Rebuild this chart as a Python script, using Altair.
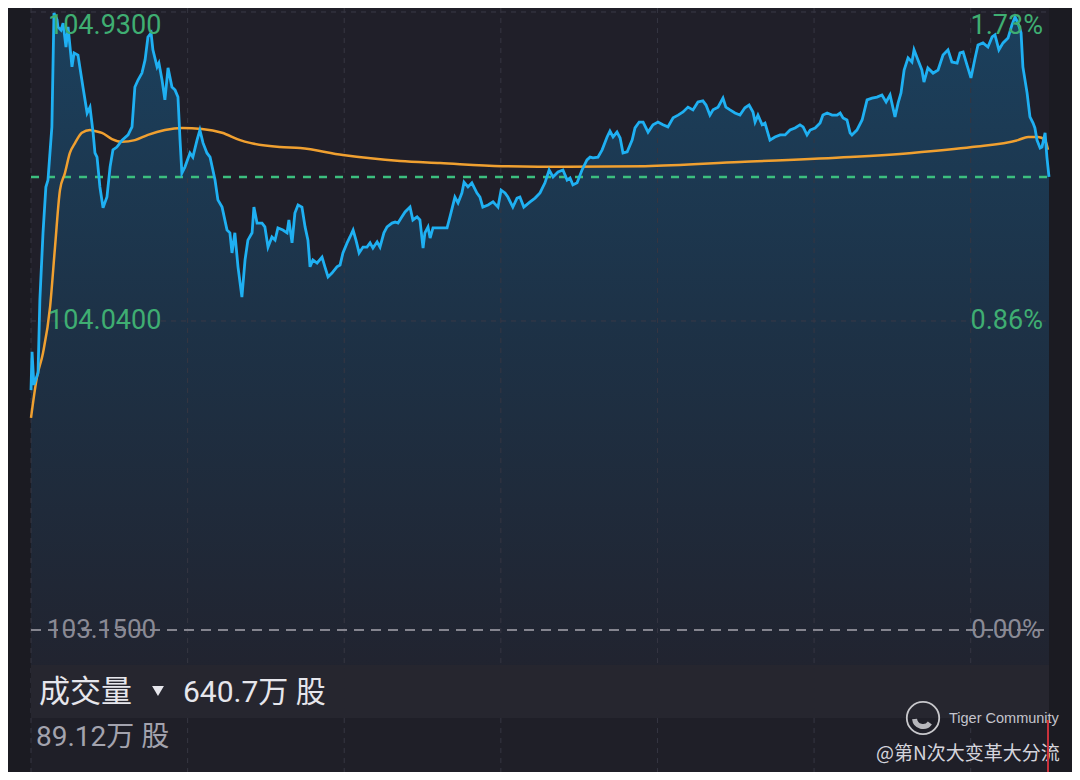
import altair as alt
import pandas as pd

# ---------------- data ----------------
minutes = [
    0, 0.4, 1.1, 2.7, 3.4, 4.6, 5.7, 6.5, 8.0, 8.8,
    10.0, 10.3, 11.5, 12.3, 13.4, 14.2, 15.7, 16.5, 18.0, 19.9,
    21.5, 22.6, 23.8, 24.5, 25.3, 26.4, 27.6, 29.1, 30.3, 31.4,
    32.9, 34.9, 37.2, 38.7, 39.8, 41.0, 42.5, 43.7, 44.8, 46.0,
    46.7, 48.3, 49.0, 50.2, 51.3, 52.5, 54.0, 55.2, 56.3, 57.1,
    57.8, 59.0, 60.9, 62.0, 63.6, 64.7, 65.9, 67.4, 68.6, 70.5,
    71.6, 73.2, 75.1, 76.2, 77.0, 78.1, 79.3, 80.8, 82.0, 83.1,
    84.7, 85.4, 86.6, 88.5, 89.6, 90.8, 92.3, 93.5, 94.6, 96.5,
    98.1, 98.8, 100.0, 101.1, 102.3, 103.8, 105.0, 106.1, 106.9, 108.0,
    109.6, 111.5, 112.6, 113.8, 115.3, 117.2, 118.4, 119.5, 121.1, 122.2,
    123.4, 124.5, 125.7, 127.2, 128.7, 129.9, 131.0, 132.6, 133.7, 135.2,
    136.4, 138.3, 139.5, 140.6, 142.1, 143.3, 145.2, 146.3, 147.9, 149.0,
    150.2, 150.9, 152.1, 152.9, 154.0, 155.9, 157.5, 159.4, 160.5, 162.4,
    163.6, 165.1, 165.9, 167.4, 168.9, 170.8, 172.0, 173.1, 175.1, 177.0,
    178.9, 180.1, 181.6, 182.7, 184.6, 186.2, 187.3, 188.8, 191.2, 193.1,
    195.0, 196.9, 198.5, 200.0, 201.9, 203.8, 205.4, 206.5, 207.6, 209.2,
    211.1, 213.0, 214.2, 215.3, 217.2, 218.8, 220.7, 221.8, 223.0, 224.5,
    225.7, 226.8, 228.4, 230.3, 231.4, 233.0, 234.5, 236.4, 238.3, 240.2,
    242.1, 244.0, 246.0, 247.9, 249.8, 251.7, 253.6, 255.5, 257.4, 258.6,
    260.1, 261.3, 263.2, 265.1, 266.2, 267.8, 269.7, 271.6, 273.5, 275.1,
    276.6, 277.4, 278.5, 280.1, 281.2, 283.1, 285.0, 287.0, 288.9, 290.8,
    292.7, 294.6, 295.8, 297.3, 298.5, 300.4, 302.3, 303.4, 305.0, 306.9,
    308.8, 310.0, 311.1, 312.6, 313.8, 314.5, 316.4, 318.4, 320.3, 322.2,
    324.1, 326.0, 327.6, 329.1, 331.0, 332.2, 333.3, 334.5, 336.0, 337.5,
    338.3, 339.8, 341.3, 342.1, 343.6, 345.6, 347.5, 349.4, 351.3, 352.8,
    354.8, 355.9, 357.1, 358.6, 360.1, 361.7, 362.8, 364.7, 366.6, 368.2,
    369.3, 370.8, 372.4, 374.3, 375.8, 377.0, 378.1, 379.3, 380.0, 381.6,
    382.7, 383.9, 384.6, 385.4, 386.6, 387.3, 388.5, 389.2, 390.0,
]
prices = [
    103.841, 103.951, 103.856, 103.890, 104.101, 104.294, 104.426, 104.446, 104.599, 104.927,
    104.907, 104.887, 104.878, 104.898, 104.829, 104.887, 104.772, 104.812, 104.806, 104.714,
    104.639, 104.656, 104.582, 104.524, 104.512, 104.426, 104.366, 104.397, 104.484, 104.533,
    104.541, 104.561, 104.576, 104.599, 104.714, 104.734, 104.754, 104.792, 104.858, 104.870,
    104.821, 104.772, 104.783, 104.734, 104.677, 104.769, 104.714, 104.705, 104.685, 104.561,
    104.466, 104.484, 104.524, 104.512, 104.561, 104.590, 104.553, 104.524, 104.512, 104.446,
    104.389, 104.368, 104.302, 104.294, 104.236, 104.294, 104.196, 104.109, 104.216, 104.273,
    104.294, 104.368, 104.322, 104.322, 104.311, 104.253, 104.282, 104.273, 104.308, 104.302,
    104.294, 104.331, 104.265, 104.351, 104.374, 104.368, 104.311, 104.273, 104.196, 104.216,
    104.207, 104.224, 104.196, 104.167, 104.178, 104.196, 104.201, 104.236, 104.265, 104.282,
    104.302, 104.273, 104.236, 104.253, 104.253, 104.265, 104.250, 104.268, 104.253, 104.294,
    104.311, 104.322, 104.325, 104.322, 104.340, 104.354, 104.368, 104.331, 104.340, 104.331,
    104.250, 104.294, 104.311, 104.279, 104.308, 104.308, 104.308, 104.308, 104.340, 104.397,
    104.380, 104.409, 104.440, 104.426, 104.438, 104.409, 104.397, 104.368, 104.374, 104.383,
    104.368, 104.417, 104.409, 104.397, 104.368, 104.394, 104.397, 104.368, 104.383, 104.394,
    104.409, 104.438, 104.475, 104.455, 104.469, 104.475, 104.446, 104.452, 104.432, 104.438,
    104.475, 104.504, 104.512, 104.510, 104.512, 104.533, 104.570, 104.587, 104.570, 104.584,
    104.567, 104.524, 104.527, 104.561, 104.596, 104.613, 104.613, 104.584, 104.605, 104.613,
    104.605, 104.599, 104.625, 104.633, 104.642, 104.656, 104.648, 104.671, 104.674, 104.662,
    104.633, 104.648, 104.656, 104.682, 104.656, 104.648, 104.639, 104.633, 104.654, 104.662,
    104.642, 104.613, 104.633, 104.605, 104.610, 104.561, 104.570, 104.576, 104.576, 104.590,
    104.596, 104.605, 104.599, 104.576, 104.590, 104.596, 104.610, 104.633, 104.639, 104.633,
    104.633, 104.639, 104.625, 104.619, 104.582, 104.576, 104.590, 104.619, 104.677, 104.682,
    104.685, 104.691, 104.671, 104.691, 104.628, 104.668, 104.697, 104.763, 104.798, 104.786,
    104.821, 104.792, 104.763, 104.728, 104.769, 104.754, 104.763, 104.806, 104.821, 104.786,
    104.783, 104.812, 104.815, 104.777, 104.740, 104.798, 104.835, 104.841, 104.829, 104.858,
    104.864, 104.821, 104.841, 104.855, 104.893, 104.916, 104.898, 104.870, 104.772, 104.697,
    104.628, 104.610, 104.596, 104.561, 104.538, 104.541, 104.582, 104.512, 104.455,
]

avg_minutes = [
    0, 2.3, 4.6, 7.3, 9.2, 11.1, 13.0, 14.9, 16.9, 19.5,
    22.6, 24.5, 27.2, 31.0, 34.9, 39.8, 44.8, 51.3, 57.8, 65.5,
    73.2, 80.1, 83.9, 95.4, 103.1, 119.5, 141.4, 156.7, 180.4, 205.7,
    235.2, 271.6, 313.8, 337.5, 360.5, 378.1, 382.0, 385.8, 388.5, 389.6,
]
avg_prices = [
    103.761, 103.879, 103.948, 104.080, 104.253, 104.417, 104.466, 104.524, 104.553, 104.582,
    104.590, 104.587, 104.582, 104.564, 104.556, 104.561, 104.576, 104.590, 104.596, 104.593,
    104.582, 104.561, 104.553, 104.541, 104.538, 104.518, 104.501, 104.495, 104.486, 104.484,
    104.486, 104.498, 104.512, 104.524, 104.541, 104.561, 104.570, 104.570, 104.561, 104.533,
]

grid_minutes = [0, 60, 120, 180, 240, 300, 360]
grid_prices = [104.93, 104.04]
top_left, top_right = "104.9300", "1.73%"
mid_left, mid_right = "104.0400", "0.86%"
base_price = 103.15
base_left = "103.1500"
base_right = "0.00%"
ref_price = 104.455

volume_title = "成交量"
volume_total = "640.7万 股"
volume_bar = "89.12万 股"
brand = "Tiger Community"
author = "@第N次大变革大分流"

# ---------------- layout ----------------
W, H = 1018, 657
P_MIN, P_MAX = 103.0492, 104.9415

xs = alt.Scale(domain=[0, 390], nice=False, zero=False)
ys = alt.Scale(domain=[P_MIN, P_MAX], nice=False, zero=False)

price_df = pd.DataFrame({"m": minutes, "p": prices})
avg_df = pd.DataFrame({"m": avg_minutes, "p": avg_prices})
one = pd.DataFrame({"k": [0]})

X = lambda: alt.X("m:Q", scale=xs, axis=None)
Y = lambda: alt.Y("p:Q", scale=ys, axis=None)

lower_bg = alt.Chart(one).mark_rect(color="#1f1f28").encode(
    x=alt.value(0), x2=alt.value(W), y=alt.value(H + 53), y2=alt.value(H + 107))

vgrid = alt.Chart(pd.DataFrame({"m": grid_minutes})).mark_rule(
    color="#363642", strokeWidth=1, strokeDash=[5, 5]).encode(
    x=X(), y=alt.value(0), y2=alt.value(H + 107))

band = alt.Chart(one).mark_rect(color="#26262f").encode(
    x=alt.value(0), x2=alt.value(W), y=alt.value(H), y2=alt.value(H + 53))

hgrid = alt.Chart(pd.DataFrame({"p": grid_prices})).mark_rule(
    color="#3a3a46", strokeWidth=1, strokeDash=[5, 5]).encode(
    y=Y(), x=alt.value(0), x2=alt.value(W))

area = alt.Chart(price_df).mark_area(
    color=alt.Gradient(
        gradient="linear",
        stops=[alt.GradientStop(color="#1b4260", offset=0),
               alt.GradientStop(color="#1d3247", offset=0.5),
               alt.GradientStop(color="#212430", offset=1)],
        x1=1, x2=1, y1=0, y2=1),
    opacity=0.95).encode(x=X(), y=Y(), y2=alt.datum(P_MIN))

base_rule = alt.Chart(pd.DataFrame({"p": [base_price]})).mark_rule(
    color="#85858f", strokeWidth=2, strokeDash=[10, 7]).encode(
    y=Y(), x=alt.value(0), x2=alt.value(W))

ref_rule = alt.Chart(pd.DataFrame({"p": [ref_price]})).mark_rule(
    color="#3cbf7f", strokeWidth=2.5, strokeDash=[8, 8]).encode(
    y=Y(), x=alt.value(0), x2=alt.value(W))

avg_line = alt.Chart(avg_df).mark_line(
    color="#f0a030", strokeWidth=2.5, interpolate="monotone").encode(x=X(), y=Y())

price_line = alt.Chart(price_df).mark_line(
    color="#1fb0f2", strokeWidth=2.8).encode(x=X(), y=Y())

GREEN = "#3fae72"
top_df = pd.DataFrame({"p": [grid_prices[0]], "l": [top_left], "r": [top_right]})
mid_df = pd.DataFrame({"p": [grid_prices[1]], "l": [mid_left], "r": [mid_right]})

def side_labels(df, color, size, lx, rx, dy=0):
    left = alt.Chart(df).mark_text(
        align="left", baseline="middle", fontSize=size, font="Roboto", color=color, dy=dy).encode(
        x=alt.value(lx), y=Y(), text="l:N")
    right = alt.Chart(df).mark_text(
        align="right", baseline="middle", fontSize=size, font="Roboto", color=color, dy=dy).encode(
        x=alt.value(rx), y=Y(), text="r:N")
    return [left, right]

top_labels = side_labels(top_df, GREEN, 27, 17, 1012, dy=14)
mid_labels = side_labels(mid_df, GREEN, 27, 17, 1012)
base_df = pd.DataFrame({"p": [base_price], "l": [base_left], "r": [base_right]})
base_labels = side_labels(base_df, "#8a8a95", 26, 16, 1010)

cjk = 'Roboto, "Noto Sans CJK SC"'
vol_title = alt.Chart(pd.DataFrame({"t": [volume_title]})).mark_text(
    align="left", baseline="middle", fontSize=31, font="Noto Sans CJK SC", color="#e6e6ec").encode(
    x=alt.value(8), y=alt.value(685), text="t:N")
vol_tri = alt.Chart(one).mark_point(
    shape="triangle-down", filled=True, size=140, color="#e6e6ec", opacity=1).encode(
    x=alt.value(127), y=alt.value(683))
vol_total = alt.Chart(pd.DataFrame({"t": [volume_total]})).mark_text(
    align="left", baseline="middle", fontSize=30, font=cjk, color="#e6e6ec").encode(
    x=alt.value(152), y=alt.value(685), text="t:N")
vol_bar = alt.Chart(pd.DataFrame({"t": [volume_bar]})).mark_text(
    align="left", baseline="middle", fontSize=28, font=cjk, color="#a3a3ae").encode(
    x=alt.value(5), y=alt.value(730), text="t:N")

logo = alt.Chart(one).mark_point(
    shape="circle", filled=False, size=1050, color="#c8c8cc", strokeWidth=1.8, opacity=1).encode(
    x=alt.value(892), y=alt.value(710))
logo_arc = alt.Chart(one).mark_arc(
    color="#c8c8cc", radius=11, radius2=6, theta=2.2, theta2=4.6, opacity=0.9).encode(
    x=alt.value(892), y=alt.value(710))
brand_text = alt.Chart(pd.DataFrame({"t": [brand]})).mark_text(
    align="left", baseline="middle", fontSize=14.5, font="Liberation Sans", color="#c4c4cc").encode(
    x=alt.value(918), y=alt.value(711), text="t:N")
author_text = alt.Chart(pd.DataFrame({"t": [author]})).mark_text(
    align="left", baseline="middle", fontSize=19, font="Noto Sans CJK SC", color="#d4d4dc").encode(
    x=alt.value(845), y=alt.value(746), text="t:N")
red_mark = alt.Chart(one).mark_rule(color="#c8323c", strokeWidth=2).encode(
    x=alt.value(1017), y=alt.value(712), y2=alt.value(H + 107))

chart = alt.layer(
    lower_bg, area, vgrid, band, hgrid, base_rule, ref_rule,
    avg_line, price_line,
    *top_labels, *mid_labels, *base_labels,
    vol_title, vol_tri, vol_total, vol_bar,
    logo, logo_arc, brand_text, author_text, red_mark,
).properties(
    width=W, height=H,
    padding={"left": 23, "top": 0, "right": 23, "bottom": 107},
    autosize=alt.AutoSizeParams(type="none"),
    background="#1b1b22",
).configure_view(fill="#201f29", strokeWidth=0)

chart.save("out.html", embed_options={"renderer": "svg", "actions": False})
